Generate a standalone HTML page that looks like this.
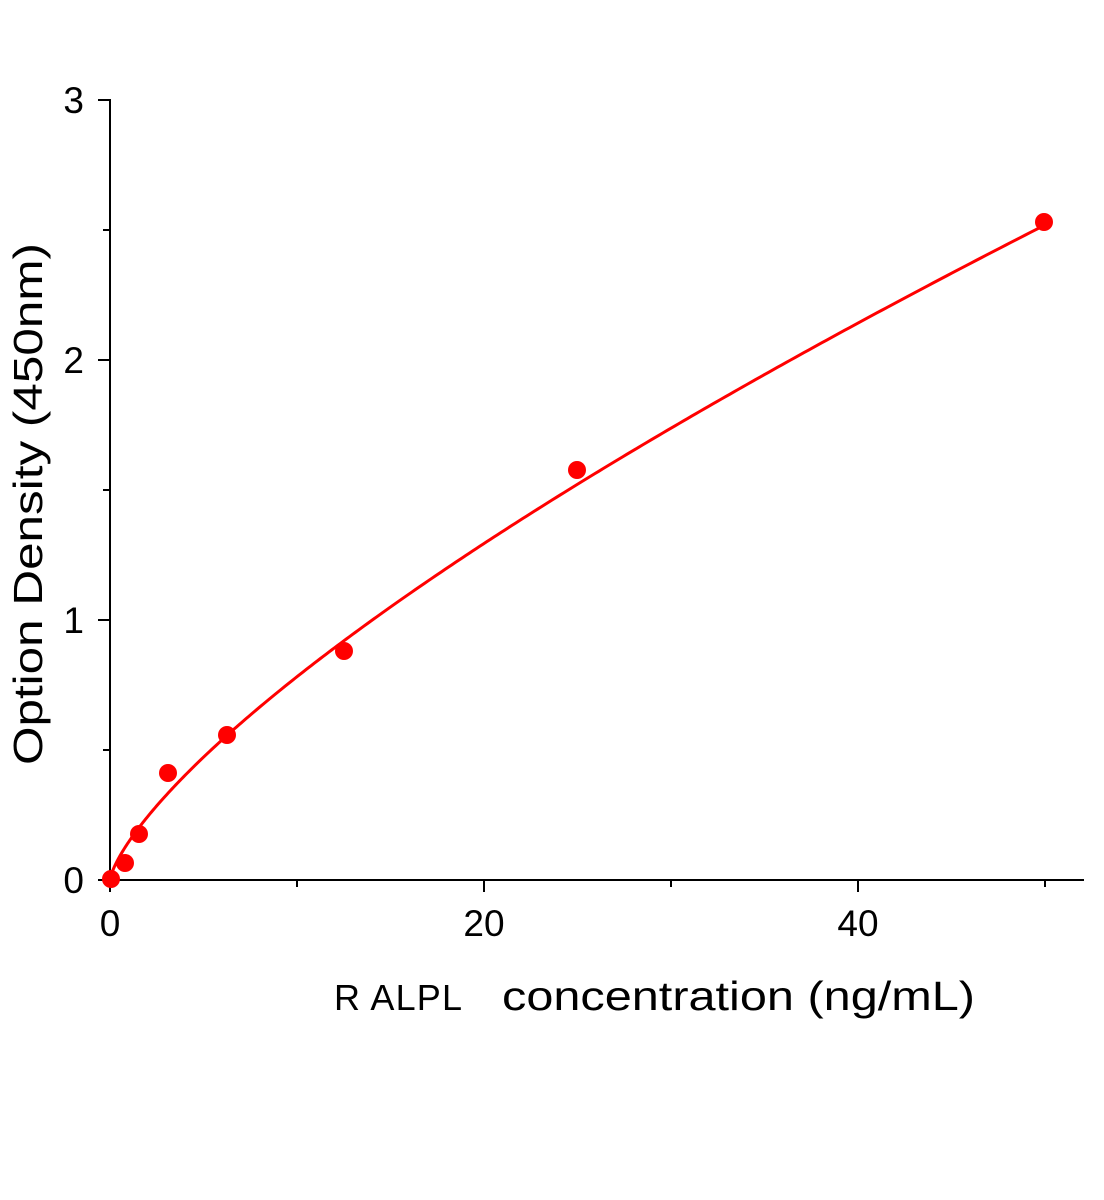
<!DOCTYPE html>
<html><head><meta charset="utf-8"><style>
html,body{margin:0;padding:0;background:#fff;}
svg{display:block;}
text{font-family:"Liberation Sans","DejaVu Sans",sans-serif;fill:#000;}
</style></head><body>
<svg id="s" width="1104" height="1200" viewBox="0 0 1104 1200" xmlns="http://www.w3.org/2000/svg">
<g stroke="#000" stroke-width="2" fill="none">
<line x1="110" y1="99" x2="110" y2="881"/>
<line x1="109" y1="880" x2="1084" y2="880"/>
<line x1="98" y1="880" x2="110" y2="880"/>
<line x1="98" y1="620" x2="110" y2="620"/>
<line x1="98" y1="360" x2="110" y2="360"/>
<line x1="98" y1="100" x2="110" y2="100"/>
<line x1="103" y1="750" x2="110" y2="750"/>
<line x1="103" y1="490" x2="110" y2="490"/>
<line x1="103" y1="230" x2="110" y2="230"/>
<line x1="110" y1="880" x2="110" y2="892"/>
<line x1="484" y1="880" x2="484" y2="892"/>
<line x1="858" y1="880" x2="858" y2="892"/>
<line x1="297" y1="880" x2="297" y2="887"/>
<line x1="671" y1="880" x2="671" y2="887"/>
<line x1="1045" y1="880" x2="1045" y2="887"/>
</g>
<g font-size="37" text-anchor="end">
<text x="84" y="893">0</text>
<text x="84" y="633">1</text>
<text x="84" y="373">2</text>
<text x="84" y="113">3</text>
</g>
<g font-size="37" text-anchor="middle">
<text x="110" y="936">0</text>
<text x="484" y="936">20</text>
<text x="858" y="936">40</text>
</g>
<text x="334" y="1010" font-size="36" textLength="128" lengthAdjust="spacing">R ALPL</text>
<text x="502" y="1010" font-size="41" textLength="473" lengthAdjust="spacingAndGlyphs">concentration (ng/mL)</text>
<text transform="translate(42,765) rotate(-90)" font-size="41" textLength="522" lengthAdjust="spacingAndGlyphs">Option Density  (450nm)</text>
<path id="c" fill="none" stroke="#f00" stroke-width="3"/>
<g fill="#f00">
<circle cx="111" cy="879" r="9"/>
<circle cx="125" cy="863" r="9"/>
<circle cx="139" cy="834" r="9"/>
<circle cx="168" cy="773" r="9"/>
<circle cx="227" cy="735" r="9"/>
<circle cx="344" cy="651" r="9"/>
<circle cx="577" cy="470" r="9"/>
<circle cx="1044" cy="222" r="9"/>
</g>
</svg>
<script>
var d="";for(var i=0;i<=300;i++){var x=50*Math.pow(i/300,1.6);var y=0.1466*Math.pow(x,0.727);d+=(i?"L":"M")+(110+18.7*x).toFixed(2)+","+(880-260*y).toFixed(2);}
document.getElementById("c").setAttribute("d",d);
</script>
</body></html>
